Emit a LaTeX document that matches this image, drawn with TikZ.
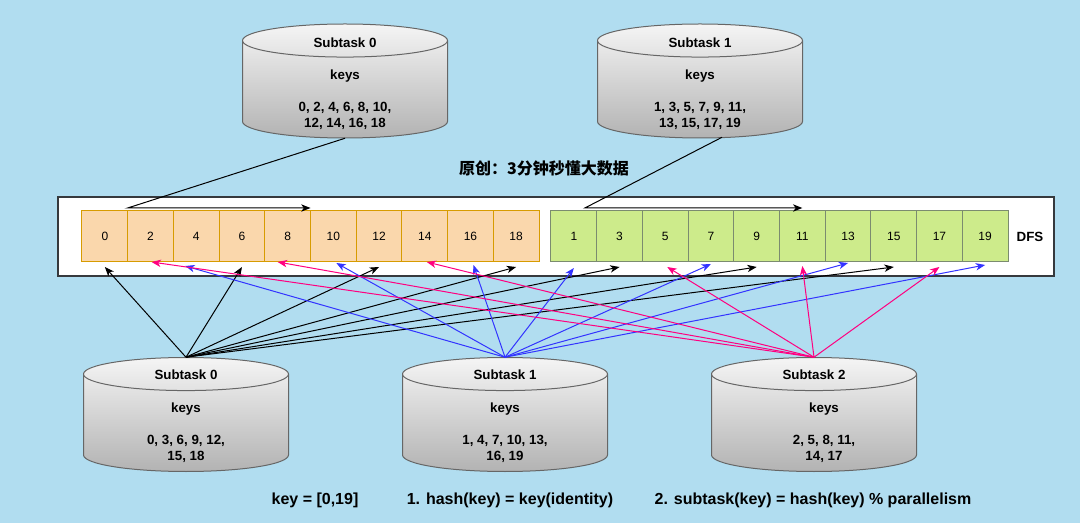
\documentclass[tikz,border=0pt]{standalone}
\usepackage{fontspec}
\setmainfont{Liberation Sans}
\newfontfamily\cjk{Noto Sans CJK SC}
\usetikzlibrary{arrows.meta,positioning,calc}

\definecolor{bgblue}{HTML}{B1DDF0}
\definecolor{evenfill}{HTML}{FAD7AC}
\definecolor{evenline}{HTML}{D79B00}
\definecolor{oddfill}{HTML}{CDEB8B}
\definecolor{oddline}{HTML}{7B8B6F}
\definecolor{cylline}{HTML}{666666}
\definecolor{boxline}{HTML}{36393D}
\definecolor{sendblue}{HTML}{3333FF}
\definecolor{sendpink}{HTML}{FF0080}

\begin{document}
\begin{tikzpicture}[
    x=0.75pt,y=-0.75pt,
    subtask/.style={rectangle,minimum width=156pt,minimum height=87.75pt,inner sep=0pt,
        path picture={
            \path (path picture bounding box.north west) ++(1.5,1.5) coordinate (drumnw);
            \path (path picture bounding box.south east) ++(-1.5,-1.5) coordinate (drumse);
            \draw[cylline,line width=0.75pt,top color=black!4,bottom color=black!30]
                let \p1=(drumnw),\p2=(drumse),\n1={(\x2-\x1)/2} in
                (\x1,\y1-12.4pt) -- (\x1,\y2+12.4pt)
                arc[start angle=180,end angle=360,x radius=\n1,y radius=12.4pt]
                -- (\x2,\y1-12.4pt)
                arc[start angle=0,end angle=180,x radius=\n1,y radius=12.4pt] -- cycle
                (\x1,\y1-12.4pt) arc[start angle=180,end angle=360,x radius=\n1,y radius=12.4pt];
        }},
    cyltext/.style={align=center,inner sep=0pt,font=\bfseries\fontsize{10}{12}\selectfont},
    evencell/.style={rectangle,draw=evenline,fill=evenfill,line width=0.75pt,outer sep=0pt,
        minimum width=34.3pt,minimum height=38.25pt,font=\fontsize{9}{11}\selectfont},
    oddcell/.style={evencell,draw=oddline,fill=oddfill},
    dfsbox/.style={rectangle,draw=boxline,fill=white,line width=1pt,minimum width=747pt,minimum height=59.25pt},
    label/.style={font=\bfseries\fontsize{12}{14}\selectfont},
    link/.style={line width=0.75pt,-{Stealth[length=7pt,width=5.5pt,inset=2pt]}}
]
    \useasboundingbox (0,0) rectangle (1080,523);
    \fill[bgblue] (0,0) rectangle (1080,523);

    % upstream subtasks
    \node[subtask] (top0) at (345,81) {};
    \node[cyltext] (top0keys) at ($(top0)+(0,3)$) {Subtask 0\\[12pt]keys\\[12pt]0, 2, 4, 6, 8, 10,\\12, 14, 16, 18};
    \node[subtask] (top1) at (700,81) {};
    \node[cyltext] (top1keys) at ($(top1)+(0,3)$) {Subtask 1\\[12pt]keys\\[12pt]1, 3, 5, 7, 9, 11,\\13, 15, 17, 19};

    \node[font=\cjk\bfseries\fontsize{12}{14}\selectfont] (title) at (544,168) {原创：3分钟秒懂大数据};

    % DFS strip
    \node[dfsbox] (dfs) at (556,236.5) {};
    \foreach \i in {0,...,9}{
        \pgfmathtruncatemacro{\k}{2*\i}
        \node[evencell] (k\k) at ({82+45.7*\i+22.85},236.5) {\k};
        \pgfmathtruncatemacro{\k}{2*\i+1}
        \node[oddcell] (k\k) at ({551+45.7*\i+22.85},236.5) {\k};
    }
    \node[font=\bfseries\fontsize{10}{12}\selectfont] (dfslabel) at (1030,236.5) {DFS};

    % downstream subtasks
    \node[subtask] (sub0) at (186,414.5) {};
    \node[cyltext] (sub0keys) at ($(sub0)+(0,2)$) {Subtask 0\\[12.5pt]keys\\[12.5pt]0, 3, 6, 9, 12,\\15, 18};
    \node[subtask] (sub1) at (505,414.5) {};
    \node[cyltext] (sub1keys) at ($(sub1)+(0,2)$) {Subtask 1\\[12.5pt]keys\\[12.5pt]1, 4, 7, 10, 13,\\16, 19};
    \node[subtask] (sub2) at (814,414.5) {};
    \node[cyltext] (sub2keys) at ($(sub2)+(0,2)$) {Subtask 2\\[12.5pt]\hspace*{15pt}keys\\[12.5pt]\hspace*{15pt}2, 5, 8, 11,\\\hspace*{15pt}14, 17};

    \node[label] (keyrange) at (315,500) {key = [0,19]};
    \node[label] (hashrule) at (510,500) {1. hash(key) = key(identity)};
    \node[label] (subrule) at (813,500) {2. subtask(key) = hash(key) \% parallelism};

    % writes into DFS
    \draw[link] ($(top0.south)+(0,-1.5)$) -- ($(k2.north west)+(0,-3)$) -- ($(k8.north east)+(0,-3)$);
    \draw[link] ($(top1.south)+(22,-2.5)$) -- ($(k1.north)+(11,-3)$) -- ($(k11.north)+(0,-3)$);

    % reads from DFS
    \foreach \k in {0,6,12,18,3,9,15}
        \draw[link] ($(sub0.north)+(0,1.5)$) -- ($(k\k.south)+(0,5)$);
    \foreach \k/\dx/\dy in {4/-11/4,10/3/1,16/3/3,1/0/6,7/0/2,13/0/1,19/0/3}
        \draw[link,sendblue] ($(sub1.north)+(0,1.5)$) -- ($(k\k.south)+(\dx,\dy)$);
    \foreach \k/\dx/\dy in {2/1/0,8/-10/0,14/2/0,5/2/5,11/0/4,17/0/5}
        \draw[link,sendpink] ($(sub2.north)+(0,1.5)$) -- ($(k\k.south)+(\dx,\dy)$);
\end{tikzpicture}
\end{document}
